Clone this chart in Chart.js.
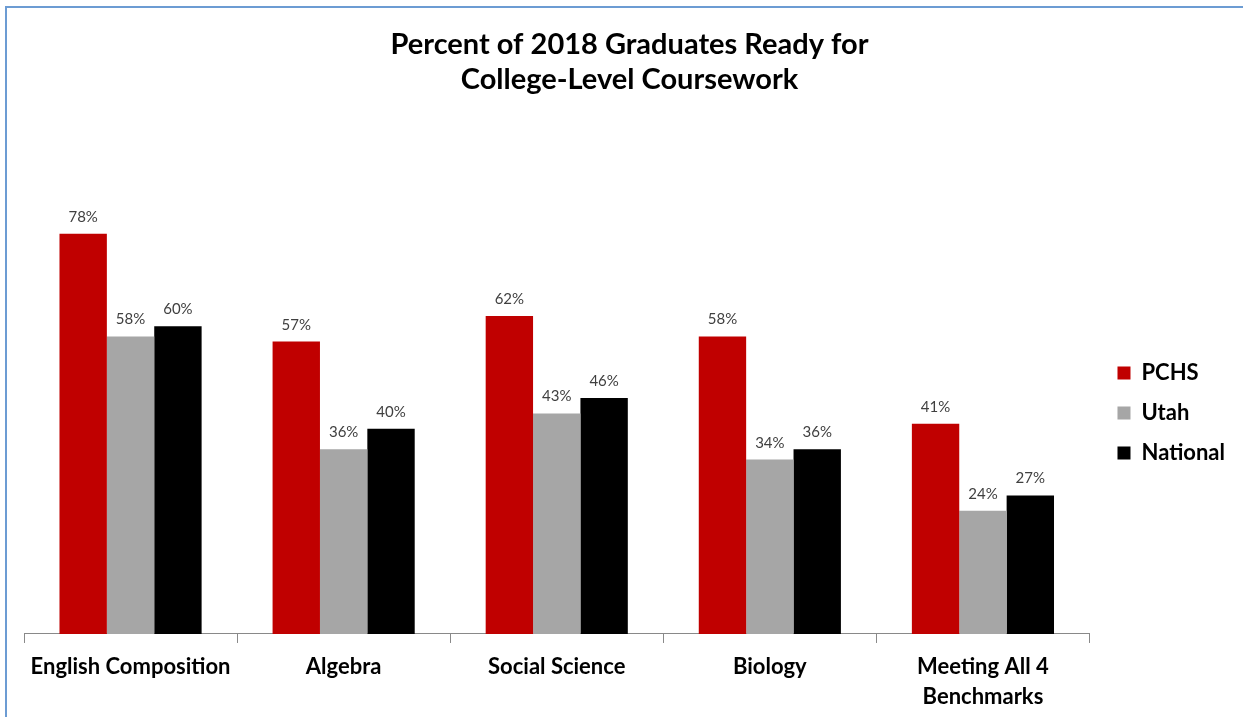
<!DOCTYPE html>
<html>
<head>
<meta charset="utf-8">
<script src="https://cdn.jsdelivr.net/npm/chart.js@4.4.1/dist/chart.umd.min.js"></script>
<style>
  html, body { margin: 0; padding: 0; background: #ffffff; overflow: hidden; }
  #wrap { position: relative; width: 1243px; height: 717px; }
  #frame { position: absolute; left: 5px; top: 6px; width: 1400px; height: 900px;
           border: 2px solid #6C9CD3; pointer-events: none; }
  canvas { position: absolute; left: 0; top: 0; }
</style>
</head>
<body>
<div id="wrap">
  <canvas id="c" width="1243" height="717"></canvas>
  <div id="frame"></div>
</div>
<script>
const categories = ["English Composition", "Algebra", "Social Science", "Biology", ["Meeting All 4", "Benchmarks"]];
const seriesNames = ["PCHS", "Utah", "National"];
const pchs = [78, 57, 62, 58, 41];
const utah = [58, 36, 43, 34, 24];
const national = [60, 40, 46, 36, 27];
const colors = ["#C00000", "#A6A6A6", "#000000"];
const titleLines = ["Percent of 2018 Graduates Ready for", "College-Level Coursework"];

const FONT = "Lato, 'Open Sans', sans-serif";

const valueLabels = {
  id: 'valueLabels',
  afterDatasetsDraw(chart) {
    const ctx = chart.ctx;
    ctx.save();
    ctx.font = "15px " + FONT;
    ctx.fillStyle = "#404040";
    ctx.textAlign = "center";
    ctx.textBaseline = "alphabetic";
    chart.data.datasets.forEach((ds, i) => {
      const meta = chart.getDatasetMeta(i);
      meta.data.forEach((bar, j) => {
        ctx.fillText(ds.data[j] + "%", bar.x, bar.y - 12);
      });
    });
    ctx.restore();
  }
};

new Chart(document.getElementById('c'), {
  type: 'bar',
  data: {
    labels: categories,
    datasets: [
      { label: seriesNames[0], data: pchs, backgroundColor: colors[0] },
      { label: seriesNames[1], data: utah, backgroundColor: colors[1] },
      { label: seriesNames[2], data: national, backgroundColor: colors[2] }
    ]
  },
  options: {
    responsive: false,
    animation: false,
    layout: { padding: { left: 24, right: 8, top: 0, bottom: -4 } },
    datasets: { bar: { categoryPercentage: 0.667, barPercentage: 1.0 } },
    scales: {
      x: {
        grid: { display: true, drawOnChartArea: false, drawTicks: true, tickLength: 9, color: "#898989", offset: true },
        border: { display: true, color: "#898989", width: 1 },
        ticks: { color: "#000000", font: { family: FONT, size: 22, weight: 'bold', lineHeight: 1.364 }, padding: 9, maxRotation: 0, autoSkip: false }
      },
      y: { display: false, min: 0, max: 100 },
      yRight: {
        position: 'right', display: true, min: 0, max: 100,
        grid: { display: false }, border: { display: false }, ticks: { display: false },
        afterFit(scale) { scale.width = 10; }
      }
    },
    plugins: {
      title: {
        display: true, text: titleLines, color: "#000000",
        font: { family: FONT, size: 29, weight: 'bold', lineHeight: 1.207 },
        padding: { top: 27, bottom: 24 }
      },
      legend: {
        display: true, position: 'right', align: 'center',
        title: { display: true, text: ' ', font: { size: 10, lineHeight: 1 }, padding: { top: 0, bottom: 95 } },
        labels: { boxWidth: 13, boxHeight: 13, padding: 18, color: "#000000",
                  font: { family: FONT, size: 22, weight: 'bold' } }
      },
      tooltip: { enabled: false }
    }
  },
  plugins: [valueLabels]
});
</script>
</body>
</html>
